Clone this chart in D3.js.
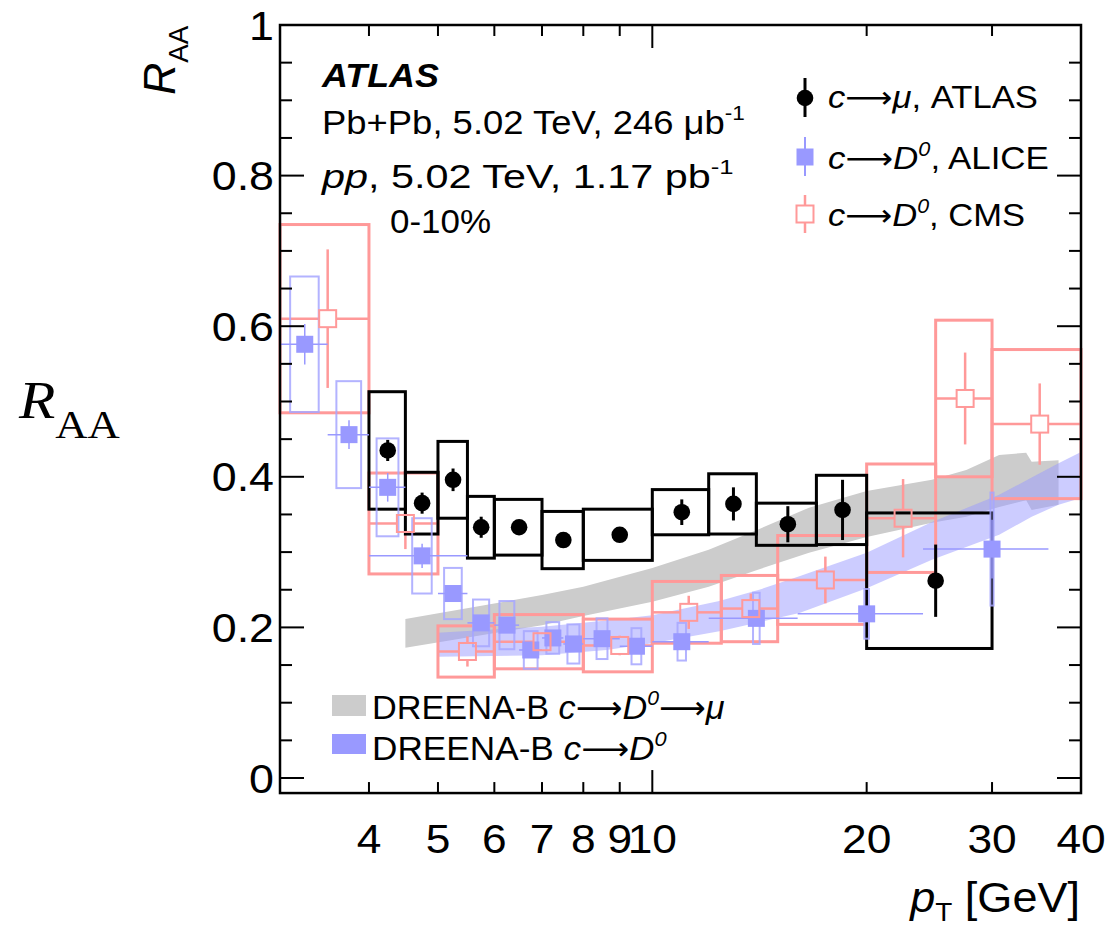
<!DOCTYPE html>
<html><head><meta charset="utf-8">
<script src="https://cdn.jsdelivr.net/npm/d3@7"></script>
<style>body{margin:0;background:#fff} svg{display:block} text{font-family:"Liberation Sans",Arial,Helvetica,sans-serif;fill:#000}</style>
</head><body><svg id="c" width="1112" height="929"></svg>
<script>
// ---------------- data ----------------
const xTickValues = [4,5,6,7,8,9,10,20,30,40];
const xTickLabels = ["4","5","6","7","8","9","10","20","30","40"];
const xTickLong = [10];
const yTickValues = [0,0.2,0.4,0.6,0.8,1];
const yTickLabels = ["0","0.2","0.4","0.6","0.8","1"];
const yMinorStep = 0.05;

// ATLAS c->mu
const atlasPt   = [4.25,4.75,5.25,5.75,6.5,7.5,9,11,13,15.5,18.5,25];
const atlasBinLo= [4,4.5,5,5.5,6,7,8,10,12,14,17,20];
const atlasBinHi= [4.5,5,5.5,6,7,8,10,12,14,17,20,30];
const atlasRaa  = [0.435,0.365,0.396,0.333,0.333,0.316,0.323,0.353,0.364,0.337,0.356,0.262];
const atlasStat = [0.014,0.014,0.015,0.014,0.008,0.008,0.008,0.017,0.022,0.024,0.040,0.048];
const atlasSys  = [0.078,0.041,0.051,0.041,0.037,0.038,0.034,0.030,0.040,0.028,0.046,0.090];

// ALICE c->D0
const alicePt   = [3.25,3.75,4.25,4.75,5.25,5.75,6.25,6.75,7.25,7.75,8.5,9.5,11,14,20,30];
const aliceBinLo= [3,3.5,4,4,5,5.5,6,6.5,7,7.5,8,9,10,12,16,24];
const aliceBinHi= [3.5,4,4.5,5.5,5.5,6,6.5,7,7.5,8,9,10,12,16,24,36];
const aliceRaa  = [0.576,0.456,0.386,0.295,0.245,0.206,0.203,0.170,0.186,0.178,0.185,0.175,0.181,0.212,0.218,0.304];
const aliceStat = [0.027,0.019,0.019,0.016,0.011,0.008,0.008,0.008,0.008,0.008,0.008,0.008,0.008,0.010,0.010,0.039];
const aliceSys  = [0.090,0.071,0.065,0.050,0.034,0.031,0.032,0.025,0.021,0.026,0.027,0.024,0.025,0.034,0.033,0.075];
const aliceBoxHalfPt = 0.15;

// CMS c->D0
const cmsPt    = [3.5,4.5,5.5,7,9,11.25,13.75,17.5,22.5,27.5,35];
const cmsBinLo = [3,4,5,6,8,10,12.5,15,20,25,30];
const cmsBinHi = [4,5,6,8,10,12.5,15,20,25,30,40];
const cmsRaa   = [0.610,0.338,0.168,0.181,0.176,0.220,0.225,0.263,0.345,0.504,0.470];
const cmsStat  = [0.092,0.034,0.020,0.012,0.013,0.022,0.020,0.031,0.052,0.061,0.054];
const cmsSys   = [0.125,0.067,0.034,0.036,0.035,0.041,0.044,0.059,0.072,0.104,0.099];

// DREENA-B c->D0->mu (gray band)
const dreenaMuPt = [4.5,7.0,8.0,10.0,12.0,14.0,16.6,20.0,24.7,27.6,30.7,33.5,34.1,37.2];
const dreenaMuHi = [0.211,0.243,0.254,0.279,0.303,0.329,0.359,0.381,0.396,0.409,0.429,0.432,0.420,0.422];
const dreenaMuLo = [0.173,0.203,0.215,0.234,0.254,0.276,0.299,0.320,0.339,0.347,0.360,0.369,0.356,0.363];
// DREENA-B c->D0 (blue band)
const dreenaDPt = [5.0,7.0,8.62,10.0,12.42,14.13,16.09,20.0,24.7,30.7,34.1,37.2,40];
const dreenaDHi = [0.193,0.201,0.209,0.216,0.235,0.250,0.268,0.299,0.340,0.376,0.399,0.418,0.433];
const dreenaDLo = [0.161,0.163,0.170,0.179,0.195,0.207,0.219,0.252,0.290,0.323,0.347,0.363,0.372];

// ---------------- styles ----------------
const cmsColor = "#ff9999", aliceColor = "#9999ff", aliceBoxColor = "#a6a6ff";
const grayBand = "#cccccc", blueBand = "rgba(153,153,255,0.5)";
const ARROW = "⟶";

const svg = d3.select("#c");
const x = d3.scaleLog().domain([3,40]).range([280,1081]);
const y = d3.scaleLinear().domain([0,1]).range([778,25]);
const yBot = -0.02;
const X0 = x(3), X1 = x(40), Y0 = y(yBot), Y1 = y(1);

// ---------- rich text helper ----------
function rich(parent, parts, o){
  const g = parent.append("g");
  const t = g.append("text").attr("font-size", o.size).attr("text-anchor", o.anchor||"start");
  if (o.family) t.style("font-family", o.family);
  let shift = 0;
  parts.forEach(p=>{
    const ts = t.append("tspan").text(p.t);
    if (p.i) ts.attr("font-style","italic");
    if (p.b) ts.attr("font-weight","bold");
    if (p.f) ts.style("font-family", p.f);
    const sz = p.s ? o.size*p.s : o.size;
    ts.attr("font-size", sz);
    if (p.dx) ts.attr("dx", p.dx*o.size);
    const target = p.dy ? p.dy*o.size : 0;
    if (target !== shift) { ts.attr("dy", target - shift); shift = target; }
  });
  let s = 1;
  if (o.width) { const w = t.node().getBBox().width; s = o.width / w; }
  if (o.sx) s = o.sx;
  g.attr("transform", `translate(${o.x},${o.y})` + (o.rot?` rotate(${o.rot})`:"") + ` scale(${s},1)`);
  return g;
}
const arrowPart = {t:ARROW, f:'"DejaVu Sans",sans-serif', s:0.95};

// ---------- bands ----------
const area = d3.area().x(d=>x(d[0])).y0(d=>y(d[1])).y1(d=>y(d[2]));
svg.append("path").datum(dreenaMuPt.map((p,i)=>[p,dreenaMuLo[i],dreenaMuHi[i]]))
  .attr("d", area).attr("fill", grayBand);
svg.append("path").datum(dreenaDPt.map((p,i)=>[p,dreenaDLo[i],dreenaDHi[i]]))
  .attr("d", area).attr("fill", blueBand);

// ---------- CMS boxes ----------
const gC = svg.append("g");
cmsPt.forEach((p,i)=>{
  gC.append("rect").attr("x", x(cmsBinLo[i])).attr("width", x(cmsBinHi[i])-x(cmsBinLo[i]))
    .attr("y", y(cmsRaa[i]+cmsSys[i])).attr("height", y(cmsRaa[i]-cmsSys[i])-y(cmsRaa[i]+cmsSys[i]))
    .attr("fill","none").attr("stroke",cmsColor).attr("stroke-width",3);
});
// ---------- ATLAS boxes ----------
const gA = svg.append("g");
atlasPt.forEach((p,i)=>{
  gA.append("rect").attr("x", x(atlasBinLo[i])).attr("width", x(atlasBinHi[i])-x(atlasBinLo[i]))
    .attr("y", y(atlasRaa[i]+atlasSys[i])).attr("height", y(atlasRaa[i]-atlasSys[i])-y(atlasRaa[i]+atlasSys[i]))
    .attr("fill","none").attr("stroke","#000").attr("stroke-width",3);
});
// ---------- ALICE boxes + errors + markers ----------
const gL = svg.append("g");
alicePt.forEach((p,i)=>{
  gL.append("rect").attr("x", x(p-aliceBoxHalfPt)).attr("width", Math.max(2,x(p+aliceBoxHalfPt)-x(p-aliceBoxHalfPt)))
    .attr("y", y(aliceRaa[i]+aliceSys[i])).attr("height", y(aliceRaa[i]-aliceSys[i])-y(aliceRaa[i]+aliceSys[i]))
    .attr("fill","none").attr("stroke",aliceBoxColor).attr("stroke-width",2).attr("stroke-opacity",0.85);
});
alicePt.forEach((p,i)=>{
  gL.append("line").attr("x1",x(aliceBinLo[i])).attr("x2",x(aliceBinHi[i])).attr("y1",y(aliceRaa[i])).attr("y2",y(aliceRaa[i]))
    .attr("stroke",aliceColor).attr("stroke-width",1.5);
  gL.append("line").attr("x1",x(p)).attr("x2",x(p)).attr("y1",y(aliceRaa[i]+aliceStat[i])).attr("y2",y(aliceRaa[i]-aliceStat[i]))
    .attr("stroke",aliceColor).attr("stroke-width",1.5);
  gL.append("rect").attr("x",x(p)-8.5).attr("y",y(aliceRaa[i])-8.5).attr("width",17).attr("height",17).attr("fill",aliceColor);
});
// ---------- CMS errors + markers ----------
const hs = 8.5;
cmsPt.forEach((p,i)=>{
  const cx = x(p), cy = y(cmsRaa[i]);
  const segs = [
    [x(cmsBinLo[i]),cy,cx-hs,cy],[cx+hs,cy,x(cmsBinHi[i]),cy],
    [cx,y(cmsRaa[i]+cmsStat[i]),cx,cy-hs],[cx,cy+hs,cx,y(cmsRaa[i]-cmsStat[i])]
  ];
  segs.forEach(s=>{ if ((s[2]>s[0]) || (s[3]>s[1]))
    gC.append("line").attr("x1",s[0]).attr("y1",s[1]).attr("x2",s[2]).attr("y2",s[3]).attr("stroke",cmsColor).attr("stroke-width",2.5); });
  svg.append("rect").attr("x",cx-hs).attr("y",cy-hs).attr("width",2*hs).attr("height",2*hs)
    .attr("fill","none").attr("stroke",cmsColor).attr("stroke-width",2);
});
// ---------- ATLAS errors + markers ----------
atlasPt.forEach((p,i)=>{
  svg.append("line").attr("x1",x(p)).attr("x2",x(p)).attr("y1",y(atlasRaa[i]+atlasStat[i])).attr("y2",y(atlasRaa[i]-atlasStat[i]))
    .attr("stroke","#000").attr("stroke-width",3);
  svg.append("circle").attr("cx",x(p)).attr("cy",y(atlasRaa[i])).attr("r",8.3).attr("fill","#000");
});

// ---------- frame & ticks ----------
const ax = svg.append("g").attr("stroke","#000");
ax.append("rect").attr("x",X0).attr("y",Y1).attr("width",X1-X0).attr("height",Y0-Y1)
  .attr("fill","none").attr("stroke-width",2.5);
xTickValues.forEach(v=>{
  const L = xTickLong.includes(v) ? 23 : 11;
  ax.append("line").attr("x1",x(v)).attr("x2",x(v)).attr("y1",Y0).attr("y2",Y0-L).attr("stroke-width",2);
  ax.append("line").attr("x1",x(v)).attr("x2",x(v)).attr("y1",Y1).attr("y2",Y1+L).attr("stroke-width",2);
});
for (let k=0;k<=20;k++){
  const v = k*yMinorStep, major = (k%4===0);
  const L = major ? 24 : 12;
  ax.append("line").attr("x1",X0).attr("x2",X0+L).attr("y1",y(v)).attr("y2",y(v)).attr("stroke-width",2);
  ax.append("line").attr("x1",X1).attr("x2",X1-L).attr("y1",y(v)).attr("y2",y(v)).attr("stroke-width",2);
}
yTickValues.forEach((v,i)=>{
  rich(svg,[{t:yTickLabels[i]}],{x:274,y:y(v)+14.5,size:40,anchor:"end",sx:1.12});
});
xTickValues.forEach((v,i)=>{
  rich(svg,[{t:xTickLabels[i]}],{x:x(v),y:853,size:41,anchor:"middle",sx:1.08});
});

// ---------- axis titles ----------
rich(svg,[{t:"p",i:true},{t:"T",s:0.62,dy:0.22},{t:" [GeV]"}],{x:1080,y:912,size:42,anchor:"end",width:172});
rich(svg,[{t:"R",i:true},{t:"AA",s:0.62,dy:0.3}],{x:175,y:95,size:44,rot:-90,width:70});
rich(svg,[{t:"R",i:true},{t:"AA",s:0.75,dy:0.38}],{x:19,y:418,size:52,family:'"Liberation Serif","Times New Roman",serif',width:102});

// ---------- annotations ----------
rich(svg,[{t:"ATLAS",i:true,b:true}],{x:322,y:87,size:33,width:118});
rich(svg,[{t:"Pb+Pb, 5.02 TeV, 246 μb"},{t:"-1",s:0.62,dy:-0.42}],{x:322,y:134,size:33,width:423});
rich(svg,[{t:"pp",i:true},{t:", 5.02 TeV, 1.17 pb"},{t:"-1",s:0.62,dy:-0.42}],{x:322,y:188,size:33,width:413});
rich(svg,[{t:"0-10%"}],{x:390,y:233,size:33,width:101});

// ---------- legend (top right) ----------
const lx = 805, lRows = [98,157,214];
svg.append("line").attr("x1",lx).attr("x2",lx).attr("y1",lRows[0]-20).attr("y2",lRows[0]+19).attr("stroke","#000").attr("stroke-width",3);
svg.append("circle").attr("cx",lx).attr("cy",lRows[0]).attr("r",8.3).attr("fill","#000");
svg.append("line").attr("x1",lx).attr("x2",lx).attr("y1",lRows[1]-20).attr("y2",lRows[1]+19).attr("stroke",aliceColor).attr("stroke-width",2);
svg.append("rect").attr("x",lx-8.5).attr("y",lRows[1]-8.5).attr("width",17).attr("height",17).attr("fill",aliceColor);
svg.append("line").attr("x1",lx).attr("x2",lx).attr("y1",lRows[2]-19).attr("y2",lRows[2]-8.5).attr("stroke",cmsColor).attr("stroke-width",2.5);
svg.append("line").attr("x1",lx).attr("x2",lx).attr("y1",lRows[2]+8.5).attr("y2",lRows[2]+19).attr("stroke",cmsColor).attr("stroke-width",2.5);
svg.append("rect").attr("x",lx-8.5).attr("y",lRows[2]-8.5).attr("width",17).attr("height",17).attr("fill","none").attr("stroke",cmsColor).attr("stroke-width",2);
rich(svg,[{t:"c",i:true},arrowPart,{t:"μ",i:true},{t:", ATLAS"}],{x:828,y:lRows[0]+10,size:32,width:210});
rich(svg,[{t:"c",i:true},arrowPart,{t:"D",i:true},{t:"0",i:true,s:0.62,dy:-0.42},{t:", ALICE"}],{x:828,y:lRows[1]+12,size:32,width:221});
rich(svg,[{t:"c",i:true},arrowPart,{t:"D",i:true},{t:"0",i:true,s:0.62,dy:-0.42},{t:", CMS"}],{x:828,y:lRows[2]+12,size:32,width:197});

// ---------- legend (bottom left) ----------
svg.append("rect").attr("x",332).attr("y",695).attr("width",34).attr("height",21).attr("fill",grayBand);
svg.append("rect").attr("x",332).attr("y",734).attr("width",34).attr("height",20).attr("fill",aliceColor);
rich(svg,[{t:"DREENA-B "},{t:"c",i:true},arrowPart,{t:"D",i:true},{t:"0",i:true,s:0.62,dy:-0.42},arrowPart,{t:"μ",i:true}],{x:372,y:719,size:34,width:353});
rich(svg,[{t:"DREENA-B "},{t:"c",i:true},arrowPart,{t:"D",i:true},{t:"0",i:true,s:0.62,dy:-0.42}],{x:372,y:760,size:34,width:295});
</script></body></html>
